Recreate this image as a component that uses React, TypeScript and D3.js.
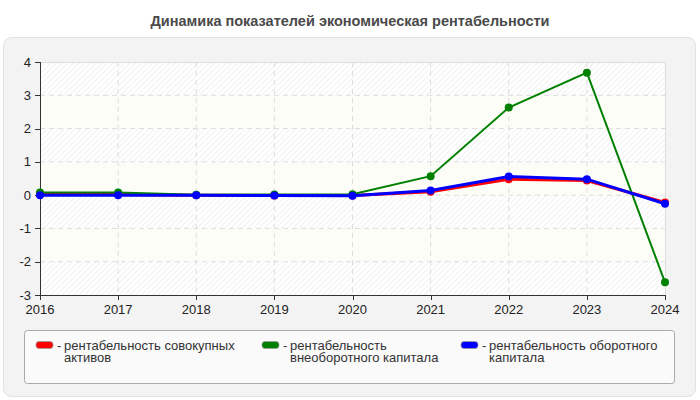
import React from "react";
import * as d3 from "d3";

const years = [2016, 2017, 2018, 2019, 2020, 2021, 2022, 2023, 2024];
const totalAssets = [0.02, 0.02, 0.0, -0.01, -0.01, 0.1, 0.48, 0.44, -0.22];
const nonCurrent = [0.08, 0.08, 0.01, 0.02, 0.03, 0.57, 2.63, 3.68, -2.62];
const working = [0.0, 0.0, 0.0, -0.01, -0.02, 0.14, 0.56, 0.48, -0.26];
const yTicks = [-3, -2, -1, 0, 1, 2, 3, 4];

const seriesNames = [
  ["рентабельность совокупных", "активов"],
  ["рентабельность", "внеоборотного капитала"],
  ["рентабельность оборотного", "капитала"],
];
const seriesColors = ["#ff0000", "#008000", "#0000ff"];
const seriesWidths = [3, 2, 3];

export default function App() {
  const W = 700, H = 400;
  const L = 40, R = 665, T = 62, B = 295;
  const x = d3.scaleLinear().domain([2016, 2024]).range([L, R]);
  const y = d3.scaleLinear().domain([-3, 4]).range([B, T]);
  const line = d3.line<number>().x((_, i) => x(years[i])).y((d) => y(d));
  const data = [totalAssets, nonCurrent, working];
  const legendX = [36, 262, 461];

  return (
    <svg width={W} height={H} style={{ position: "absolute", left: 0, top: 0 }} fontFamily="Liberation Sans, Arial, sans-serif">
      <defs>
        <pattern id="hatch" width="4" height="4" patternUnits="userSpaceOnUse" patternTransform="rotate(45)">
          <rect width="4" height="4" fill="#ffffff" />
          <line x1="0" y1="0" x2="0" y2="4" stroke="#ededed" strokeWidth="1.5" />
        </pattern>
      </defs>
      <rect x={0} y={0} width={W} height={H} fill="#ffffff" />
      <text x={350} y={26} textAnchor="middle" fontSize={14.5} fontWeight="bold" fill="#4a4a4a">
        Динамика показателей экономическая рентабельности
      </text>
      <rect x={3.5} y={37.5} width={692} height={359} rx={8} fill="#f3f3f3" stroke="#e2e2e2" />
      {/* bands */}
      {yTicks.slice(0, -1).map((t, i) => (
        <rect key={t} x={L} y={y(t + 1)} width={R - L} height={y(t) - y(t + 1)}
          fill={i % 2 === 0 ? "url(#hatch)" : "#fdfdf8"} />
      ))}
      {/* grid */}
      {yTicks.slice(1, -1).map((t) => (
        <line key={t} x1={L} x2={R} y1={y(t)} y2={y(t)} stroke="#dddddd" strokeDasharray="5,4" />
      ))}
      {years.slice(1, -1).map((yr) => (
        <line key={yr} x1={x(yr)} x2={x(yr)} y1={T} y2={B} stroke="#dddddd" strokeDasharray="5,4" />
      ))}
      <line x1={L} x2={R} y1={T + 0.5} y2={T + 0.5} stroke="#dddddd" />
      <line x1={R + 0.5} x2={R + 0.5} y1={T} y2={B} stroke="#dddddd" />
      {/* axes */}
      <line x1={L + 0.5} x2={L + 0.5} y1={T} y2={B} stroke="#333" />
      <line x1={L} x2={R + 1} y1={B + 0.5} y2={B + 0.5} stroke="#333" />
      {yTicks.map((t) => (
        <g key={t}>
          <line x1={L - 5} x2={L} y1={Math.round(y(t)) + 0.5} y2={Math.round(y(t)) + 0.5} stroke="#333" />
          <text x={L - 9} y={y(t) + 4.5} textAnchor="end" fontSize={13} fill="#222">{t}</text>
        </g>
      ))}
      {years.map((yr) => (
        <g key={yr}>
          <line x1={Math.round(x(yr)) + 0.5} x2={Math.round(x(yr)) + 0.5} y1={B} y2={B + 5} stroke="#333" />
          <text x={x(yr)} y={314} textAnchor="middle" fontSize={13} fill="#222">{yr}</text>
        </g>
      ))}
      {/* series */}
      {data.map((d, si) => (
        <g key={si}>
          <path d={line(d) || ""} fill="none" stroke={seriesColors[si]} strokeWidth={seriesWidths[si]} />
          {d.map((v, i) => (
            <circle key={i} cx={x(years[i])} cy={y(v)} r={4} fill={seriesColors[si]} />
          ))}
        </g>
      ))}
      {/* legend */}
      <rect x={24.5} y={330.5} width={650} height={53} rx={3} fill="#fafafa" stroke="#aaaaaa" />
      {seriesNames.map((names, i) => (
        <g key={i}>
          <rect x={legendX[i]} y={341.5} width={17} height={7} rx={3} fill={seriesColors[i]} stroke="#999" strokeWidth={0.8} />
          <text x={legendX[i] + 21} y={350} fontSize={13} fill="#333">-</text>
          <text fontSize={13} fill="#333">
            <tspan x={legendX[i] + 28} y={349.5}>{names[0]}</tspan>
            <tspan x={legendX[i] + 28} y={361.5}>{names[1]}</tspan>
          </text>
        </g>
      ))}
    </svg>
  );
}
